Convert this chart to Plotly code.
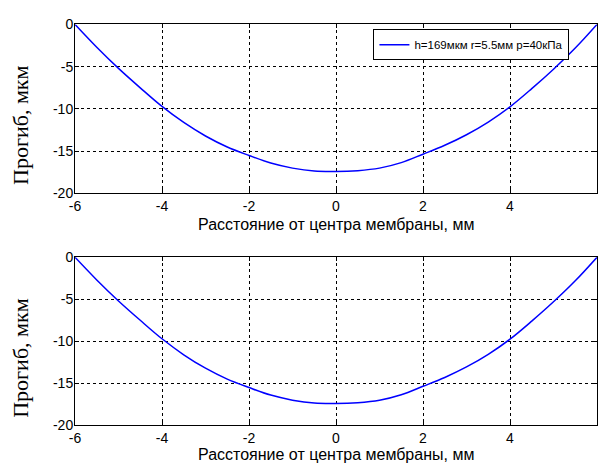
import plotly.graph_objects as go

x_mm = [-6, -5.5, -5, -4.5, -4, -3.5, -3, -2.5, -2, -1.5, -1, -0.5, 0,
        0.5, 1, 1.5, 2, 2.5, 3, 3.5, 4, 4.5, 5, 5.5, 6]
deflection_um = [0, -2.7, -5.2, -7.5, -9.7, -11.6, -13.2, -14.5, -15.5, -16.4, -17.0, -17.35, -17.4,
                 -17.3, -17.0, -16.35, -15.35, -14.3, -13.05, -11.55, -9.75, -7.6, -5.3, -2.8, 0]
legend_label = "h=169мкм r=5.5мм p=40кПа"
x_ticks = [-6, -4, -2, 0, 2, 4, 6]
x_ticklabels = ["-6", "-4", "-2", "0", "2", "4", "6"]
y_ticks = [0, -5, -10, -15, -20]
y_ticklabels = ["0", "-5", "-10", "-15", "-20"]
x_title = "Расстояние от центра мембраны, мм"
y_title = "Прогиб, мкм"

W, H = 598, 472
def py(p):
    return 1 - p / H

fig = go.Figure()
fig.add_trace(go.Scatter(x=x_mm, y=deflection_um, mode="lines", line=dict(color="#0000ff", width=1.5, shape="spline"),
                         name=legend_label, showlegend=True, xaxis="x", yaxis="y"))
fig.add_trace(go.Scatter(x=x_mm, y=deflection_um, mode="lines", line=dict(color="#0000ff", width=1.5, shape="spline"),
                         name=legend_label, showlegend=False, xaxis="x2", yaxis="y2"))

axcommon = dict(showline=True, linecolor="black", linewidth=1, mirror="ticks", ticks="inside", ticklen=4,
                tickcolor="black", showgrid=True, gridcolor="black", griddash="dot", gridwidth=1,
                zeroline=False, tickfont=dict(family="Liberation Sans, Arial", size=14, color="black"))

fig.update_layout(
    width=W, height=H, margin=dict(l=75, r=0, t=0, b=0),
    paper_bgcolor="white", plot_bgcolor="white",
    xaxis=dict(axcommon, domain=[0, 1], range=[-6, 6], tickvals=x_ticks, ticktext=x_ticklabels, anchor="y"),
    yaxis=dict(axcommon, domain=[py(192), py(17)], range=[-20, 0], tickvals=y_ticks, ticktext=y_ticklabels,
               anchor="x", ticklabelstandoff=-2),
    xaxis2=dict(axcommon, domain=[0, 1], range=[-6, 6], tickvals=x_ticks, ticktext=x_ticklabels, anchor="y2"),
    yaxis2=dict(axcommon, domain=[py(432), py(258)], range=[-20, 0], tickvals=y_ticks, ticktext=y_ticklabels,
                anchor="x2", ticklabelstandoff=-2),
    legend=dict(x=(374 - 75) / (W - 75), y=py(22), xanchor="left", yanchor="top",
                bgcolor="white", bordercolor="black", borderwidth=1,
                font=dict(family="Liberation Sans, Arial", size=11.5, color="black"),
                tracegroupgap=0, itemwidth=30),
    showlegend=True,
)

annots = []
for yc in (224, 462):
    annots.append(dict(text=x_title, xref="paper", yref="paper", x=(337 - 75) / (W - 75), y=py(yc),
                       xanchor="center", yanchor="middle", showarrow=False,
                       font=dict(family="Liberation Sans, Arial", size=16, color="black")))
for yc in (122, 363):
    annots.append(dict(text=y_title, xref="paper", yref="paper", x=(21 - 75) / (W - 75), y=py(yc),
                       xanchor="center", yanchor="middle", showarrow=False, textangle=-90,
                       font=dict(family="Liberation Serif, Times New Roman", size=22, color="black")))
fig.update_layout(annotations=annots)

fig.write_html("out.html", config={"displayModeBar": False},
               post_script="document.body.style.margin='0';document.body.style.overflow='hidden';")
